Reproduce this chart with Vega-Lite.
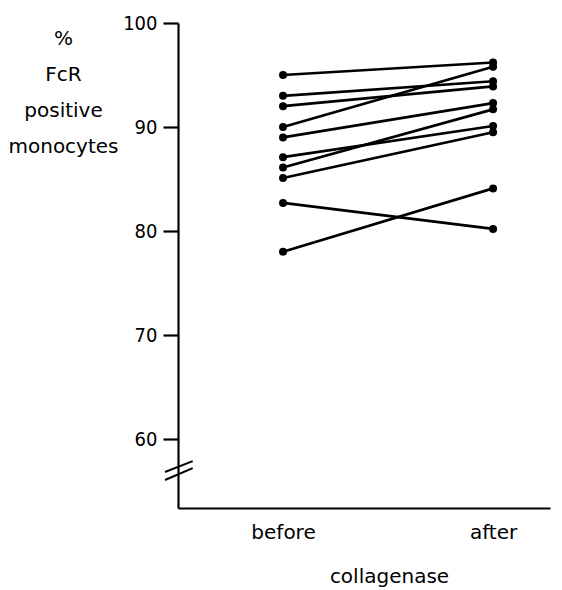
{
  "$schema": "https://vega.github.io/schema/vega-lite/v6.json",
  "width": 372,
  "height": 485,
  "autosize": {"type": "none"},
  "padding": {"left": 178, "top": 23, "right": 12, "bottom": 82},
  "background": "white",
  "config": {
    "view": {"stroke": null},
    "font": "DejaVu Sans",
    "axis": {"grid": false, "domainColor": "black", "tickColor": "black", "labelColor": "black", "titleColor": "black", "labelFont": "DejaVu Sans", "titleFont": "DejaVu Sans", "titleFontWeight": "normal", "domainWidth": 2.2, "tickWidth": 2.2}
  },
  "datasets": {
    "pts": [
      {"id": 1, "cond": 0, "pct": 95.0}, {"id": 1, "cond": 1, "pct": 96.2},
      {"id": 2, "cond": 0, "pct": 93.0}, {"id": 2, "cond": 1, "pct": 94.4},
      {"id": 3, "cond": 0, "pct": 92.0}, {"id": 3, "cond": 1, "pct": 93.9},
      {"id": 4, "cond": 0, "pct": 90.0}, {"id": 4, "cond": 1, "pct": 95.8},
      {"id": 5, "cond": 0, "pct": 89.0}, {"id": 5, "cond": 1, "pct": 92.3},
      {"id": 6, "cond": 0, "pct": 87.1}, {"id": 6, "cond": 1, "pct": 90.1},
      {"id": 7, "cond": 0, "pct": 86.1}, {"id": 7, "cond": 1, "pct": 91.7},
      {"id": 8, "cond": 0, "pct": 85.1}, {"id": 8, "cond": 1, "pct": 89.5},
      {"id": 9, "cond": 0, "pct": 82.7}, {"id": 9, "cond": 1, "pct": 80.2},
      {"id": 10, "cond": 0, "pct": 78.0}, {"id": 10, "cond": 1, "pct": 84.1}
    ],
    "breaks": [
      {"x": -0.562, "x2": -0.43, "y": 56.83, "y2": 57.88},
      {"x": -0.562, "x2": -0.43, "y": 56.06, "y2": 57.21}
    ]
  },
  "layer": [
    {
      "data": {"name": "pts"},
      "mark": {"type": "line", "color": "black", "strokeWidth": 2.7},
      "encoding": {
        "x": {"field": "cond", "type": "quantitative", "scale": {"domain": [-0.5, 1.271], "nice": false, "zero": false},
          "axis": {"values": [0, 1], "labelExpr": "datum.value == 0 ? 'before' : 'after'", "ticks": false, "labelPadding": 14, "labelFontSize": 20, "title": "collagenase", "titleFontSize": 20, "titleX": 211, "titleY": 74, "titleBaseline": "alphabetic", "titleAnchor": null, "titleAlign": "center"}},
        "y": {"field": "pct", "type": "quantitative", "scale": {"domain": [53.37, 100], "nice": false, "zero": false},
          "axis": {"values": [60, 70, 80, 90, 100], "tickSize": 15, "labelPadding": 6, "labelFontSize": 20, "labelFont": "DejaVu Sans Condensed",
            "title": ["%", "FcR", "positive", "monocytes"], "titleFontSize": 20, "titleAngle": 0, "titleAlign": "center", "titleBaseline": "alphabetic", "titleX": -115, "titleY": 21, "titleLineHeight": 36, "titleAnchor": null}},
        "detail": {"field": "id"}
      }
    },
    {
      "data": {"name": "pts"},
      "mark": {"type": "point", "filled": true, "color": "black", "size": 64, "opacity": 1},
      "encoding": {
        "x": {"field": "cond", "type": "quantitative"},
        "y": {"field": "pct", "type": "quantitative"}
      }
    },
    {
      "data": {"name": "breaks"},
      "mark": {"type": "rule", "color": "black", "strokeWidth": 2, "clip": false},
      "encoding": {
        "x": {"field": "x", "type": "quantitative"},
        "x2": {"field": "x2"},
        "y": {"field": "y", "type": "quantitative"},
        "y2": {"field": "y2"}
      }
    }
  ]
}
